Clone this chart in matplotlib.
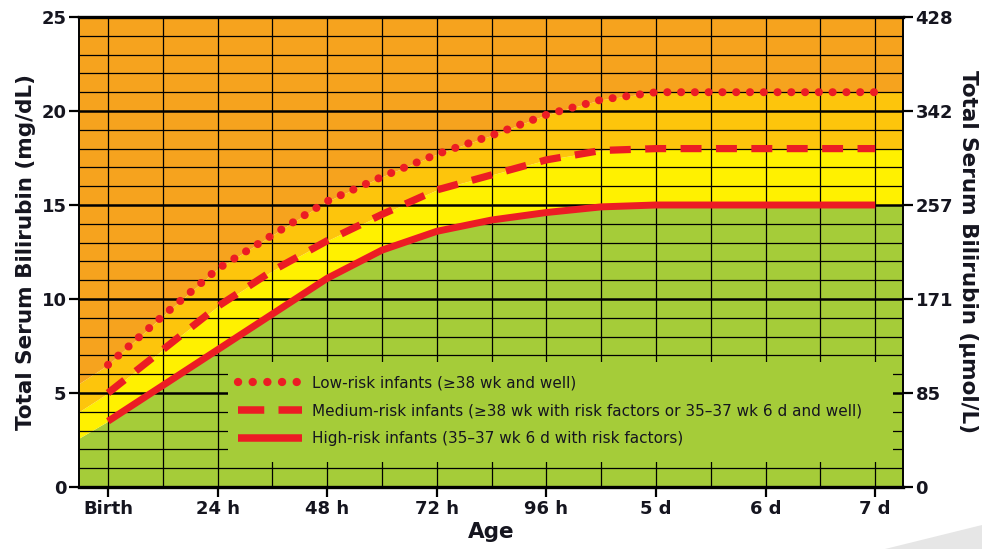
import numpy as np
import matplotlib
matplotlib.use("Agg")
import matplotlib.pyplot as plt
from matplotlib.lines import Line2D
from matplotlib.patches import Rectangle, Polygon

plt.rcParams['font.family'] = ['DejaVu Sans']

# Age in hours after birth at which the thresholds are read
hours = [0, 12, 24, 36, 48, 60, 72, 84, 96, 108, 120, 144, 168]
# Phototherapy thresholds, total serum bilirubin in mg/dL
low_risk = [6.5, 9.1, 11.6, 13.4, 15.2, 16.5, 17.7, 18.7, 19.8, 20.6, 21.0, 21.0, 21.0]
medium_risk = [5.0, 7.3, 9.6, 11.5, 13.1, 14.5, 15.8, 16.6, 17.4, 17.9, 18.0, 18.0, 18.0]
high_risk = [3.5, 5.4, 7.3, 9.2, 11.1, 12.6, 13.6, 14.2, 14.6, 14.9, 15.0, 15.0, 15.0]
# Band boundaries (high, medium, low) at the left edge of the grid, before birth
band_start = [2.6, 4.0, 5.5]

x_tick_hours = [0, 24, 48, 72, 96, 120, 144, 168]
x_tick_labels = ['Birth', '24 h', '48 h', '72 h', '96 h', '5 d', '6 d', '7 d']
mgdl_ticks = [0, 5, 10, 15, 20, 25]
umol_labels = ['0', '85', '171', '257', '342', '428']

legend_labels = [
    'Low-risk infants (\u226538 wk and well)',
    'Medium-risk infants (\u226538 wk with risk factors or 35\u201337 wk 6 d and well)',
    'High-risk infants (35\u201337 wk 6 d with risk factors)',
]

ORANGE = '#F6A31E'
GOLD = '#FDC50C'
YELLOW = '#FFF100'
GREEN = '#A5CC39'
RED = '#EC1C24'
INK = '#15151f'

W, H = 982, 549
fig = plt.figure(figsize=(W / 100, H / 100), dpi=100)
ax = fig.add_axes([79 / W, 62 / H, 824 / W, 470 / H])

x0, x1 = -6.35, 174.1
ax.set_xlim(x0, x1)
ax.set_ylim(0, 25)

# colour bands bounded by the three threshold curves
bx = np.array([x0] + hours + [x1])
def band(start, curve):
    return np.array([start] + curve + [curve[-1]])

b_high = band(band_start[0], high_risk)
b_med = band(band_start[1], medium_risk)
b_low = band(band_start[2], low_risk)
ax.fill_between(bx, 0, b_high, color=GREEN, lw=0, zorder=0)
ax.fill_between(bx, b_high, b_med, color=YELLOW, lw=0, zorder=0)
ax.fill_between(bx, b_med, b_low, color=GOLD, lw=0, zorder=0)
ax.fill_between(bx, b_low, 25, color=ORANGE, lw=0, zorder=0)

# grid: 1 mg/dL rows, 12 h columns, heavier every 5 mg/dL
minor_rows = [v for v in range(1, 25) if v % 5]
major_rows = [5, 10, 15, 20]
ax.hlines(minor_rows, x0, x1, colors='black', lw=0.9, zorder=1)
ax.hlines(major_rows, x0, x1, colors='black', lw=1.8, zorder=1)
ax.vlines(np.arange(0, 169, 12), 0, 25, colors='black', lw=0.9, zorder=1)

# plain panel behind the legend
ax.add_patch(Rectangle((26.3, 1.35), 171.9 - 26.3, 6.65 - 1.35,
                       facecolor=GREEN, edgecolor='none', zorder=1.5))

# threshold curves
dot_style = dict(color=RED, lw=5.8, linestyle=(0, (0.01, 1.7)),
                 dash_capstyle='round', solid_capstyle='round')
dash_style = dict(color=RED, lw=5.2, linestyle=(0, (2.9, 2.0)),
                  dash_capstyle='butt')
solid_style = dict(color=RED, lw=5.0, solid_capstyle='butt')
ax.plot(hours, low_risk, zorder=3, **dot_style)
ax.plot(hours, medium_risk, zorder=3, **dash_style)
ax.plot(hours, high_risk, zorder=3, **solid_style)

handles = [
    Line2D([], [], color=RED, lw=6.0, linestyle=(0, (0.01, 1.75)),
           dash_capstyle='round'),
    Line2D([], [], color=RED, lw=5.4, linestyle=(0, (3.5, 1.9)),
           dash_capstyle='butt'),
    Line2D([], [], color=RED, lw=5.4, solid_capstyle='butt'),
]
leg = ax.legend(handles, legend_labels, loc='center left',
                bbox_to_anchor=((238 - 79) / 824, (487 - 411) / 470),
                frameon=False, fontsize=11, handlelength=4.2,
                handletextpad=0.65, labelspacing=0.85,
                borderpad=0, borderaxespad=0)
for t in leg.get_texts():
    t.set_color(INK)
leg.set_zorder(4)

# axes, ticks and labels
for side in ['top', 'bottom']:
    ax.spines[side].set_linewidth(2.4)
for side in ['left', 'right']:
    ax.spines[side].set_linewidth(1.4)
ax.set_xticks(x_tick_hours)
ax.set_xticklabels(x_tick_labels, fontsize=13, fontweight='bold', color=INK)
ax.set_yticks(mgdl_ticks)
ax.set_yticklabels([str(v) for v in mgdl_ticks], fontsize=13,
                   fontweight='bold', color=INK)
ax.tick_params(axis='both', direction='out', length=7, width=1.6, pad=2)

ax2 = ax.twinx()
ax2.set_ylim(0, 25)
ax2.set_yticks(mgdl_ticks)
ax2.set_yticklabels(umol_labels, fontsize=13, fontweight='bold', color=INK)
ax2.tick_params(axis='y', direction='out', length=7, width=1.6, pad=2)
for s in ax2.spines.values():
    s.set_visible(False)

ax.set_xlabel('Age', fontsize=15.5, fontweight='bold', color=INK, labelpad=3)
ax.set_ylabel('Total Serum Bilirubin (mg/dL)', fontsize=15.5, fontweight='bold',
              color=INK, labelpad=4)
ax2.set_ylabel('Total Serum Bilirubin (\u03bcmol/L)', fontsize=15.5, fontweight='bold',
               color=INK, rotation=-90, labelpad=18)

# light page shadow in the lower right corner
fig.patches.append(Polygon([(885 / W, 0), (1, 24 / H), (1, 0)], closed=True,
                           transform=fig.transFigure, facecolor='#e6e6e6',
                           edgecolor='none'))

fig.savefig('out.png', dpi=100)
